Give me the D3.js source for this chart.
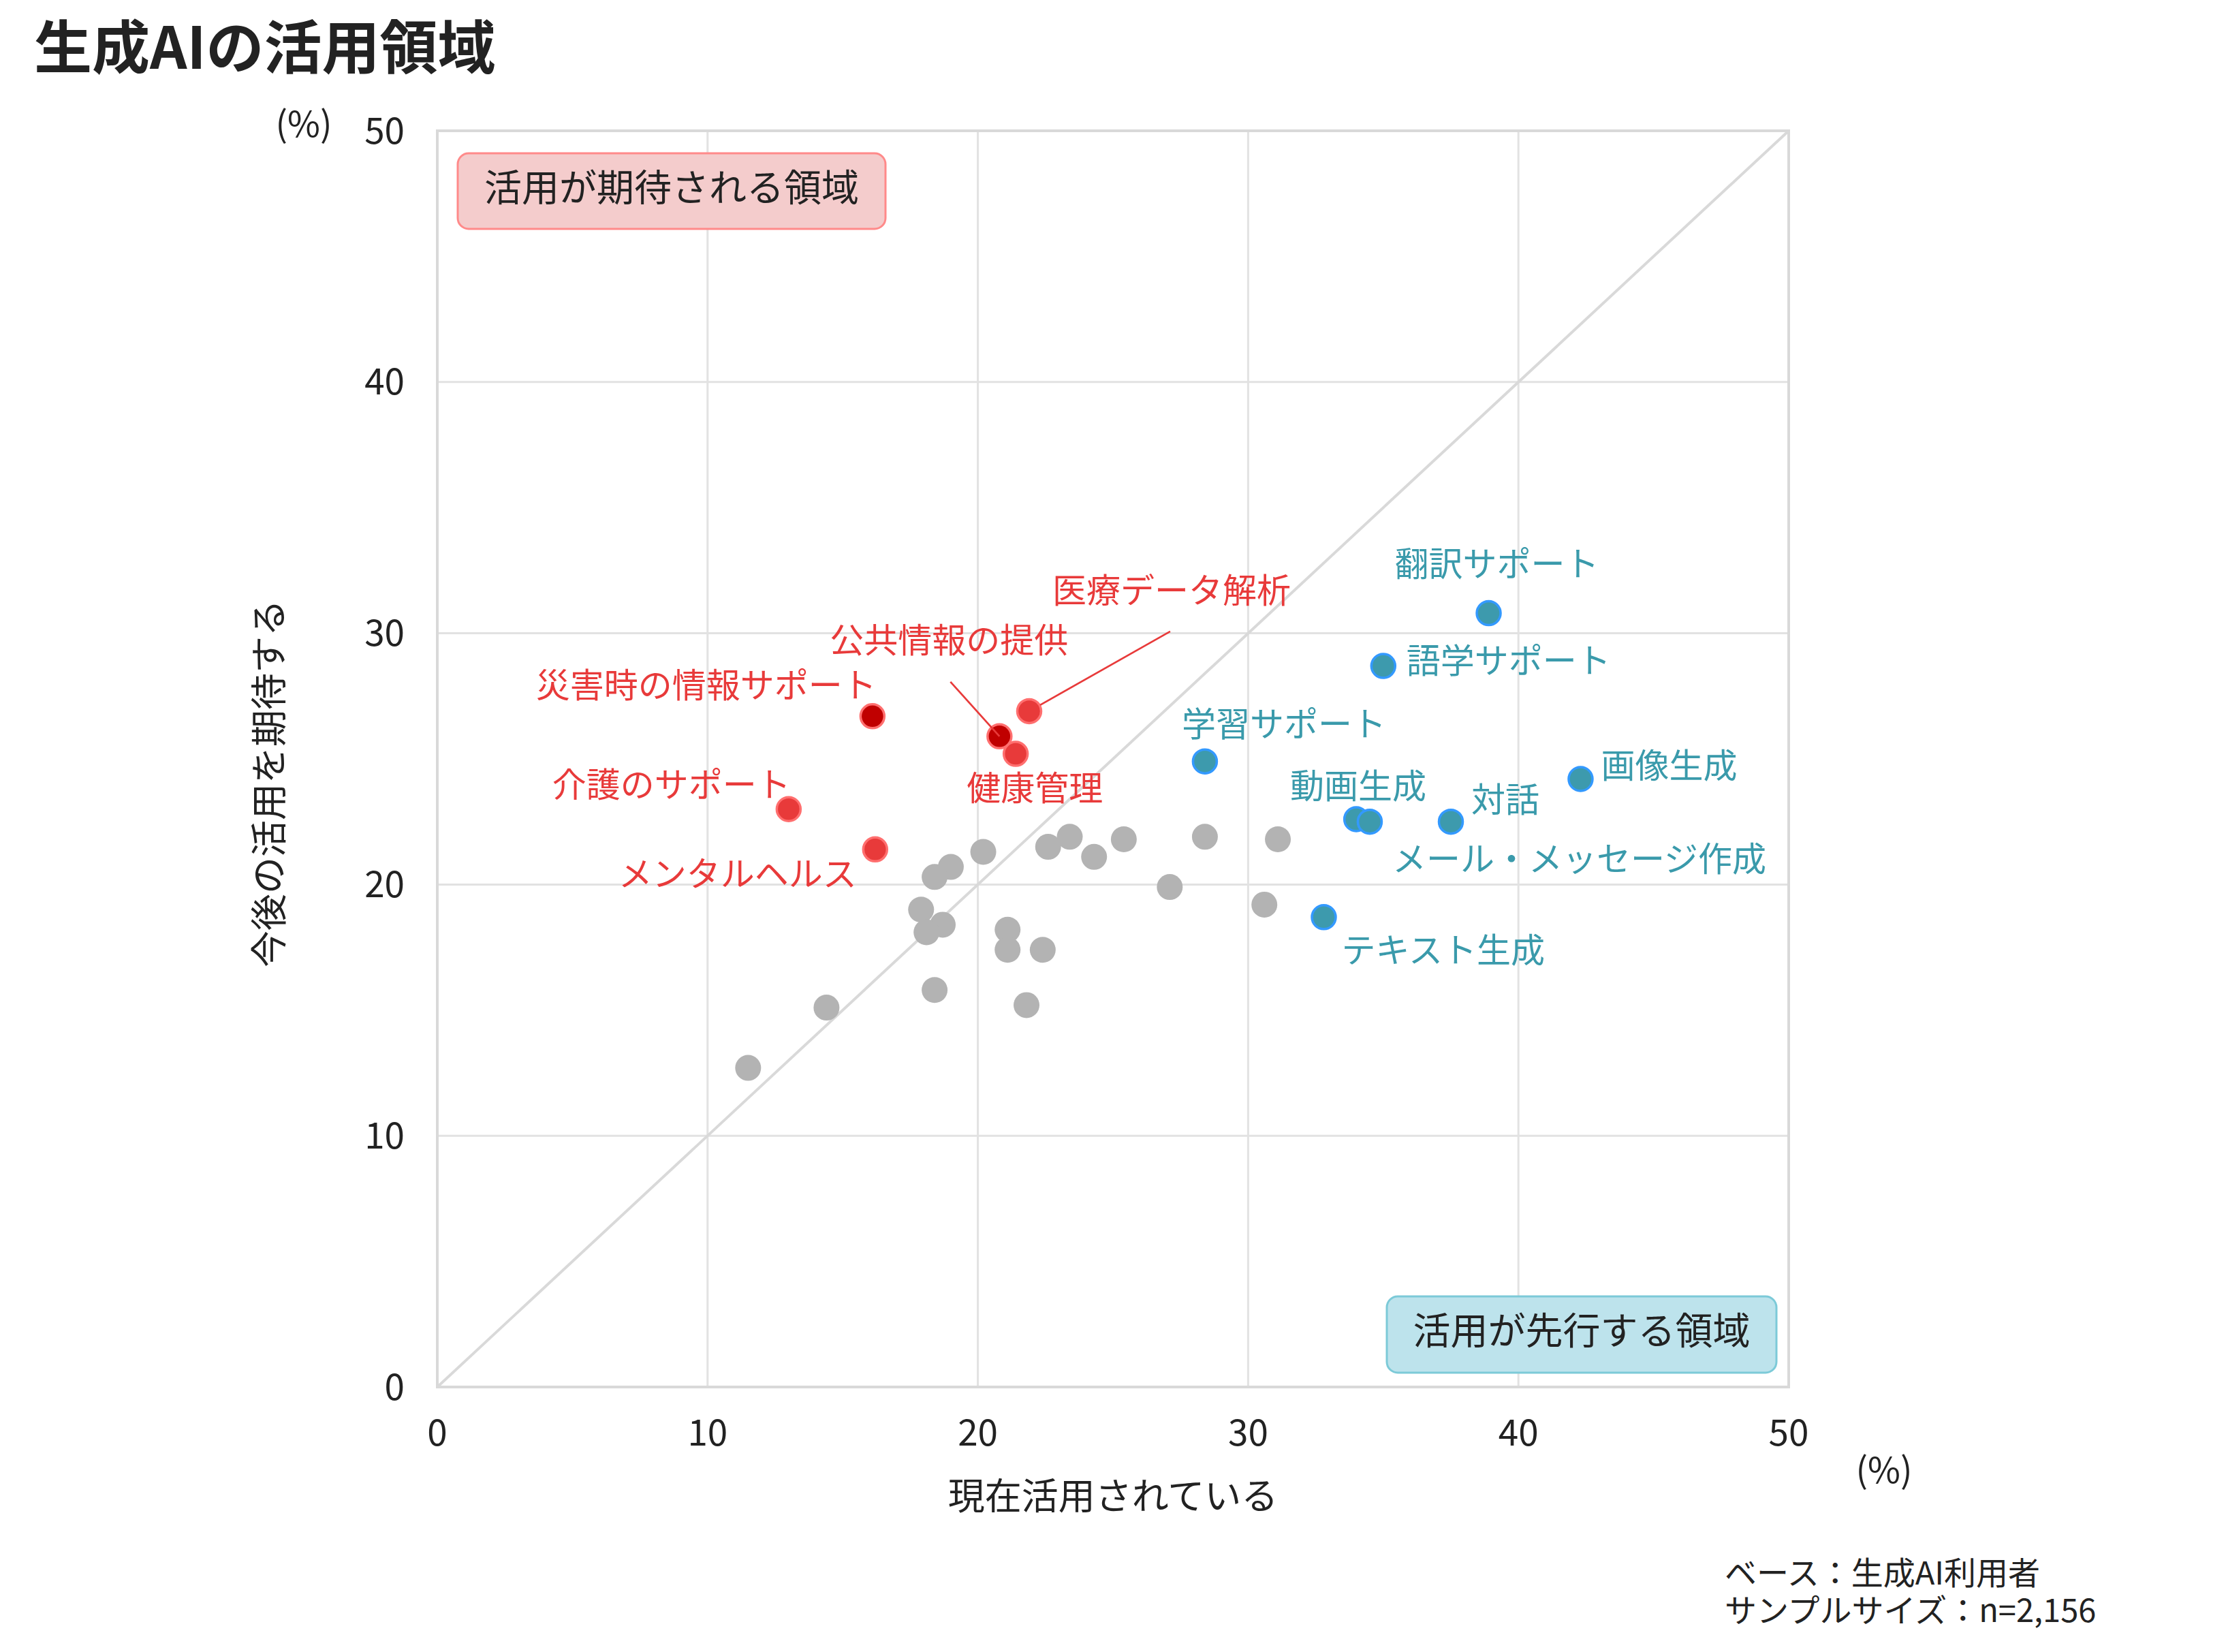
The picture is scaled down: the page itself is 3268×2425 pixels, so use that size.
<!DOCTYPE html>
<html>
<head>
<meta charset="utf-8">
<script src="https://cdn.jsdelivr.net/npm/d3@7"></script>
<style>
  body { margin: 0; background: #fff; }
  text { font-family: "Noto Sans CJK JP", "Noto Sans", sans-serif; }
</style>
</head>
<body>
<div id="chart"></div>
<script>
// --- data ---
const xTicks = [0, 10, 20, 30, 40, 50];
const yTicks = [0, 10, 20, 30, 40, 50];

// 活用が期待される項目（赤）
const redNames   = ["災害時の情報サポート", "公共情報の提供", "医療データ解析", "健康管理", "介護のサポート", "メンタルヘルス"];
const redCurrent = [16.1, 20.8, 21.9, 21.4, 13.0, 16.2];
const redFuture  = [26.7, 25.9, 26.9, 25.2, 23.0, 21.4];
const redStrong  = ["災害時の情報サポート", "公共情報の提供"];

// 活用が先行する項目（青）
const blueNames   = ["翻訳サポート", "語学サポート", "学習サポート", "画像生成", "動画生成", "メール・メッセージ作成", "対話", "テキスト生成"];
const blueCurrent = [38.9, 35.0, 28.4, 42.3, 34.0, 34.5, 37.5, 32.8];
const blueFuture  = [30.8, 28.7, 24.9, 24.2, 22.6, 22.5, 22.5, 18.7];

// その他（グレー）
const otherCurrent = [20.2, 22.6, 23.4, 24.3, 25.4, 28.4, 31.1, 19.0, 18.4, 27.1, 30.6, 17.9, 18.7, 18.1, 21.1, 21.1, 22.4, 18.4, 21.8, 14.4, 11.5];
const otherFuture  = [21.3, 21.5, 21.9, 21.1, 21.8, 21.9, 21.8, 20.7, 20.3, 19.9, 19.2, 19.0, 18.4, 18.1, 18.2, 17.4, 17.4, 15.8, 15.2, 15.1, 12.7];

const footnotes = ["ベース：生成AI利用者", "サンプルサイズ：n=2,156"];

// ラベル配置（点からのずれ, px）
const labelPlacement = {
  "災害時の情報サポート": { dx: 6, dy: -45, anchor: "end" },
  "公共情報の提供": { dx: -74, dy: -140, anchor: "middle", line: [-72, -80] },
  "医療データ解析": { dx: 209, dy: -176, anchor: "middle", line: [207, -117] },
  "健康管理": { dx: 28, dy: 51, anchor: "middle" },
  "介護のサポート": { dx: 3, dy: -35, anchor: "end" },
  "メンタルヘルス": { dx: -27, dy: 37, anchor: "end" },
  "翻訳サポート": { dx: 12, dy: -72, anchor: "middle" },
  "語学サポート": { dx: 34, dy: -7, anchor: "start" },
  "学習サポート": { dx: 116, dy: -54, anchor: "middle" },
  "画像生成": { dx: 30, dy: -19, anchor: "start" },
  "動画生成": { dx: 3, dy: -48, anchor: "middle" },
  "メール・メッセージ作成": { dx: 33, dy: 55, anchor: "start" },
  "対話": { dx: 30, dy: -32, anchor: "start" },
  "テキスト生成": { dx: 26, dy: 49, anchor: "start" }
};

const W = 3268, H = 2425;
const plotLeft = 642, plotRight = 2626, plotTop = 192, plotBottom = 2036;
const r = 17.5;

const svg = d3.select("#chart").append("svg")
  .attr("width", W)
  .attr("height", H)
  .attr("viewBox", `0 0 ${W} ${H}`);

const x = d3.scaleLinear().domain([0, 50]).range([plotLeft, plotRight]);
const y = d3.scaleLinear().domain([0, 50]).range([plotBottom, plotTop]);

// タイトル
svg.append("text")
  .attr("x", 50).attr("y", 101)
  .style("font-size", "85px").style("font-weight", "bold").style("fill", "#222")
  .text("生成AIの活用領域");

// グリッド
svg.append("g").selectAll("line")
  .data(xTicks.slice(1, -1)).enter().append("line")
  .attr("x1", d => x(d)).attr("x2", d => x(d))
  .attr("y1", plotTop).attr("y2", plotBottom)
  .attr("stroke", "#e2e2e2").attr("stroke-width", 3);
svg.append("g").selectAll("line")
  .data(yTicks.slice(1, -1)).enter().append("line")
  .attr("y1", d => y(d)).attr("y2", d => y(d))
  .attr("x1", plotLeft).attr("x2", plotRight)
  .attr("stroke", "#e2e2e2").attr("stroke-width", 3);
svg.append("rect")
  .attr("x", plotLeft).attr("y", plotTop)
  .attr("width", plotRight - plotLeft).attr("height", plotBottom - plotTop)
  .attr("fill", "none").attr("stroke", "#d9d9d9").attr("stroke-width", 4);

// 対角線
svg.append("line")
  .attr("x1", x(0)).attr("y1", y(0)).attr("x2", x(50)).attr("y2", y(50))
  .attr("stroke", "#d9d9d9").attr("stroke-width", 4);

// 軸ラベル
svg.append("g").selectAll("text")
  .data(xTicks).enter().append("text")
  .attr("x", d => x(d)).attr("y", 2103).attr("dy", "0.35em")
  .attr("text-anchor", "middle")
  .style("font-size", "53px").style("fill", "#222")
  .text(d => d);
svg.append("g").selectAll("text")
  .data(yTicks).enter().append("text")
  .attr("x", 594).attr("y", d => y(d)).attr("dy", "0.35em")
  .attr("text-anchor", "end")
  .style("font-size", "53px").style("fill", "#222")
  .text(d => d);

svg.append("text").attr("x", 446).attr("y", 183).attr("dy", "0.35em")
  .attr("text-anchor", "middle").style("font-size", "52px").style("fill", "#222").text("(%)");
svg.append("text").attr("x", 2766).attr("y", 2159).attr("dy", "0.35em")
  .attr("text-anchor", "middle").style("font-size", "52px").style("fill", "#222").text("(%)");

svg.append("text").attr("x", (plotLeft + plotRight) / 2).attr("y", 2197).attr("dy", "0.35em")
  .attr("text-anchor", "middle").style("font-size", "54px").style("fill", "#222")
  .text("現在活用されている");
svg.append("text")
  .attr("transform", "translate(396,1150) rotate(-90)")
  .attr("dy", "0.35em")
  .attr("text-anchor", "middle").style("font-size", "54px").style("fill", "#222")
  .text("今後の活用を期待する");

// 領域ボックス
const boxes = [
  { x: 672, y: 225, w: 628, h: 111, fill: "#f4cccc", stroke: "#ff8a8a", text: "活用が期待される領域" },
  { x: 2036, y: 1903, w: 572, h: 112, fill: "#bde3ec", stroke: "#7ccad8", text: "活用が先行する領域" }
];
boxes.forEach(b => {
  svg.append("rect")
    .attr("x", b.x).attr("y", b.y).attr("width", b.w).attr("height", b.h)
    .attr("rx", 16).attr("fill", b.fill).attr("stroke", b.stroke).attr("stroke-width", 3);
  svg.append("text")
    .attr("x", b.x + b.w / 2).attr("y", b.y + b.h / 2 - 5).attr("dy", "0.35em")
    .attr("text-anchor", "middle").style("font-size", "55px").style("fill", "#222")
    .text(b.text);
});

// 点
const others = otherCurrent.map((v, i) => ({ cx: v, cy: otherFuture[i] }));
const reds = redNames.map((n, i) => ({ name: n, cx: redCurrent[i], cy: redFuture[i] }));
const blues = blueNames.map((n, i) => ({ name: n, cx: blueCurrent[i], cy: blueFuture[i] }));

svg.append("g").selectAll("circle")
  .data(others).enter().append("circle")
  .attr("cx", d => x(d.cx)).attr("cy", d => y(d.cy)).attr("r", r + 1.5)
  .attr("fill", "#b3b3b3");

svg.append("g").selectAll("circle")
  .data(reds).enter().append("circle")
  .attr("cx", d => x(d.cx)).attr("cy", d => y(d.cy)).attr("r", r)
  .attr("fill", d => redStrong.includes(d.name) ? "#c00000" : "#e83a3a")
  .attr("stroke", "#ff6f6f").attr("stroke-width", 3.5);

svg.append("g").selectAll("circle")
  .data(blues).enter().append("circle")
  .attr("cx", d => x(d.cx)).attr("cy", d => y(d.cy)).attr("r", r)
  .attr("fill", "#3d9aad")
  .attr("stroke", "#3399ff").attr("stroke-width", 3.5);

// 引き出し線
reds.filter(d => labelPlacement[d.name].line).forEach(d => {
  const p = labelPlacement[d.name];
  const px = x(d.cx), py = y(d.cy);
  const sx = px + p.line[0], sy = py + p.line[1];
  const isStrong = redStrong.includes(d.name);
  const len = Math.hypot(p.line[0], p.line[1]);
  const k = isStrong ? 0 : (r + 1) / len;
  svg.append("line")
    .attr("x1", sx).attr("y1", sy)
    .attr("x2", px + p.line[0] * k).attr("y2", py + p.line[1] * k)
    .attr("stroke", "#e83a3a").attr("stroke-width", 2.7);
});

// ラベル
function labels(data, color) {
  svg.append("g").selectAll("text")
    .data(data).enter().append("text")
    .attr("x", d => x(d.cx) + labelPlacement[d.name].dx)
    .attr("y", d => y(d.cy) + labelPlacement[d.name].dy)
    .attr("dy", "0.35em")
    .attr("text-anchor", d => labelPlacement[d.name].anchor)
    .style("font-size", "50px").style("fill", color)
    .text(d => d.name);
}
labels(reds, "#e83a3a");
labels(blues, "#3a9aab");

// 注記
const note = svg.append("text")
  .attr("x", 2532).attr("y", 2326)
  .style("font-size", "47px").style("fill", "#222");
note.selectAll("tspan")
  .data(footnotes).enter().append("tspan")
  .attr("x", 2532)
  .attr("dy", (d, i) => i === 0 ? 0 : 55)
  .text(d => d);
</script>
</body>
</html>
